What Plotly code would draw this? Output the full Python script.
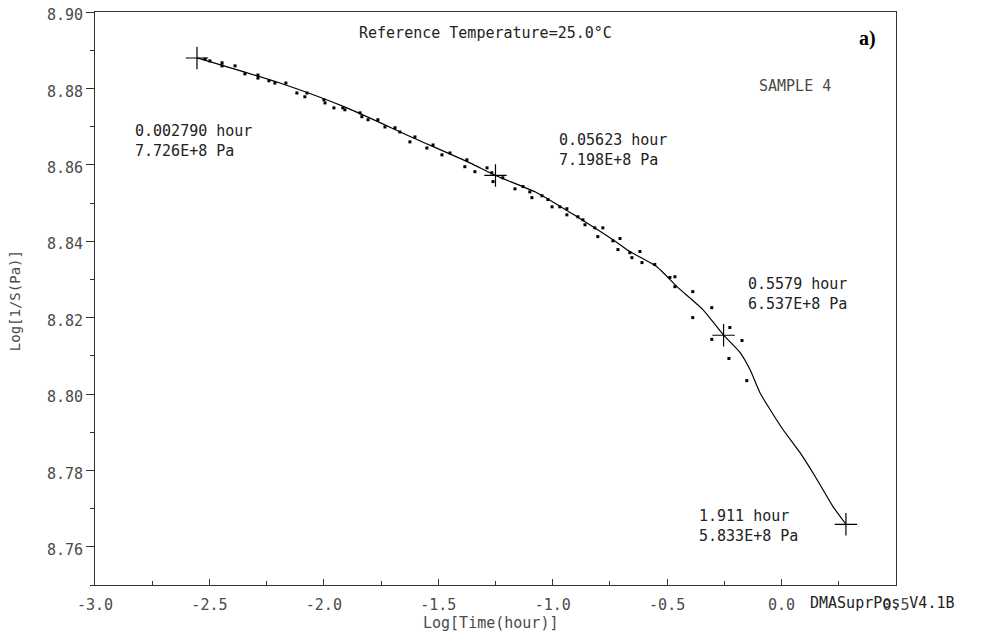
import numpy as np
import plotly.graph_objects as go

# ---- data ----
curve_x = [-2.554, -2.192, -1.899, -1.611, -1.362, -1.250, -1.069, -0.894, -0.737, -0.663,
           -0.545, -0.457, -0.344, -0.2535, -0.182, -0.138, -0.095, -0.051, 0.006, 0.080,
           0.154, 0.224, 0.2813]
curve_y = [8.8880, 8.8814, 8.8749, 8.8671, 8.8605, 8.8572, 8.8527, 8.8464, 8.8404, 8.8373,
           8.8333, 8.8281, 8.8221, 8.8154, 8.8109, 8.8064, 8.8004, 8.7960, 8.7907, 8.7847,
           8.7777, 8.7706, 8.7659]

dots_x = [-2.519, -2.498, -2.445, -2.445, -2.388, -2.345, -2.288, -2.288, -2.240, -2.214,
          -2.166, -2.118, -2.074, -2.083, -2.000, -1.995, -1.956, -1.917, -1.908, -1.842,
          -1.834, -1.807, -1.764, -1.733, -1.689, -1.668, -1.624, -1.602, -1.550, -1.523,
          -1.484, -1.449, -1.375, -1.384, -1.340, -1.287, -1.266, -1.261, -1.218, -1.165,
          -1.130, -1.091, -1.100, -1.047, -1.021, -1.003, -0.969, -0.938, -0.938, -0.890,
          -0.868, -0.859, -0.816, -0.803, -0.781, -0.737, -0.715, -0.706, -0.663, -0.654,
          -0.619, -0.610, -0.554, -0.488, -0.466, -0.466, -0.388, -0.388, -0.305, -0.305,
          -0.226, -0.173, -0.230, -0.152]
dots_y = [8.8877, 8.8872, 8.8867, 8.8859, 8.8859, 8.8838, 8.8835, 8.8827, 8.8820, 8.8814,
          8.8814, 8.8788, 8.8788, 8.8778, 8.8770, 8.8762, 8.8749, 8.8749, 8.8744, 8.8736,
          8.8726, 8.8718, 8.8718, 8.8699, 8.8697, 8.8686, 8.8660, 8.8673, 8.8644, 8.8652,
          8.8626, 8.8631, 8.8613, 8.8595, 8.8582, 8.8592, 8.8579, 8.8556, 8.8566, 8.8537,
          8.8543, 8.8514, 8.8529, 8.8519, 8.8509, 8.8490, 8.8490, 8.8485, 8.8469, 8.8464,
          8.8456, 8.8443, 8.8435, 8.8412, 8.8435, 8.8401, 8.8378, 8.8407, 8.8370, 8.8357,
          8.8373, 8.8344, 8.8339, 8.8305, 8.8307, 8.8281, 8.8268, 8.8200, 8.8226, 8.8143,
          8.8174, 8.8140, 8.8093, 8.8035]

mark_hours = [0.002790, 0.05623, 0.5579, 1.911]
mark_pa = [7.726e8, 7.198e8, 6.537e8, 5.833e8]
mark_hour_labels = ["0.002790", "0.05623", "0.5579", "1.911"]
mark_pa_labels = ["7.726E+8", "7.198E+8", "6.537E+8", "5.833E+8"]

x_ticks = [-3.0, -2.5, -2.0, -1.5, -1.0, -0.5, 0.0, 0.5]
y_ticks = [8.76, 8.78, 8.80, 8.82, 8.84, 8.86, 8.88, 8.90]

mark_x = list(np.log10(mark_hours))
mark_y = list(np.log10(mark_pa))

MONO = "DejaVu Sans Mono"
TXT = "#222222"
GRAY = "#4a4a4a"

fig = go.Figure()
fig.add_trace(go.Scatter(x=dots_x, y=dots_y, mode="markers",
                         marker=dict(size=3, color="black", symbol="square"),
                         showlegend=False, hoverinfo="skip"))
fig.add_trace(go.Scatter(x=curve_x, y=curve_y, mode="lines",
                         line=dict(color="black", width=1.2, shape="spline", smoothing=0.6),
                         showlegend=False))
fig.add_trace(go.Scatter(x=mark_x, y=mark_y, mode="markers",
                         marker=dict(size=16, symbol="cross-thin",
                                     line=dict(color="black", width=1.2)),
                         showlegend=False))

# annotations for the marked points (text placement positions)
ann_pos = [(-2.834, 8.8663), (-0.982, 8.8639), (-0.156, 8.8263), (-0.370, 8.7654)]
for (ax, ay), h, p in zip(ann_pos, mark_hour_labels, mark_pa_labels):
    fig.add_annotation(x=ax, y=ay, xref="x", yref="y", xanchor="left", yanchor="middle",
                       text=f"{h} hour<br>{p} Pa", showarrow=False, align="left",
                       font=dict(family=MONO, size=15, color=TXT))

fig.add_annotation(x=-1.292, y=8.8945, xref="x", yref="y", xanchor="center",
                   text="Reference Temperature=25.0°C",
                   showarrow=False, font=dict(family=MONO, size=15, color=TXT))
fig.add_annotation(x=0.058, y=8.8807, xref="x", yref="y", xanchor="center", text="SAMPLE 4",
                   showarrow=False, font=dict(family=MONO, size=15, color=GRAY))
fig.add_annotation(x=0.377, y=8.8930, xref="x", yref="y", xanchor="center", text="<b>a)</b>",
                   showarrow=False, font=dict(family="Liberation Serif", size=20, color="black"))
fig.add_annotation(x=0.890, y=-0.031, xref="paper", yref="paper", xanchor="left", yanchor="middle",
                   text="DMASuprPos V4.1B", showarrow=False,
                   font=dict(family=MONO, size=15, color=TXT))
fig.add_annotation(x=0.494, y=-0.066, xref="paper", yref="paper", xanchor="center", yanchor="middle",
                   text="Log[Time(hour)]", showarrow=False,
                   font=dict(family=MONO, size=15, color=GRAY))
fig.add_annotation(x=-0.0999, y=0.497, xref="paper", yref="paper", xanchor="center",
                   yanchor="middle", textangle=-90,
                   text="Log[1/S(Pa)]", showarrow=False,
                   font=dict(family=MONO, size=14, color=GRAY))

# page body has an 8 px margin, so the figure is 8 px smaller and margins shifted
fig.update_layout(
    width=977, height=630,
    margin=dict(l=87, r=89, t=4, b=53, autoexpand=False),
    paper_bgcolor="white", plot_bgcolor="white",
    xaxis=dict(range=[-3.0, 0.5], tickvals=x_ticks, ticktext=[f"{v:.1f}" for v in x_ticks],
               ticks="inside", ticklen=6, tickcolor="#333", showgrid=False, zeroline=False,
               showline=True, linecolor="#333", linewidth=1, mirror=True,
               ticklabelstandoff=6, automargin=False, ticklabeloverflow="allow",
               minor=dict(dtick=0.25, ticks="inside", ticklen=4, tickcolor="#333"),
               tickfont=dict(family=MONO, size=15, color=GRAY)),
    yaxis=dict(range=[8.75, 8.90], tickvals=y_ticks, ticktext=[f"{v:.2f}" for v in y_ticks],
               ticks="outside", ticklen=8, tickcolor="#333", showgrid=False, zeroline=False,
               showline=True, linecolor="#333", linewidth=1, mirror=True, automargin=False,
               ticklabeloverflow="allow", ticklabelshift=3,
               minor=dict(dtick=0.01, ticks="outside", ticklen=4, tickcolor="#333"),
               tickfont=dict(family=MONO, size=15, color=GRAY)),
)

fig.write_html("out.html")
